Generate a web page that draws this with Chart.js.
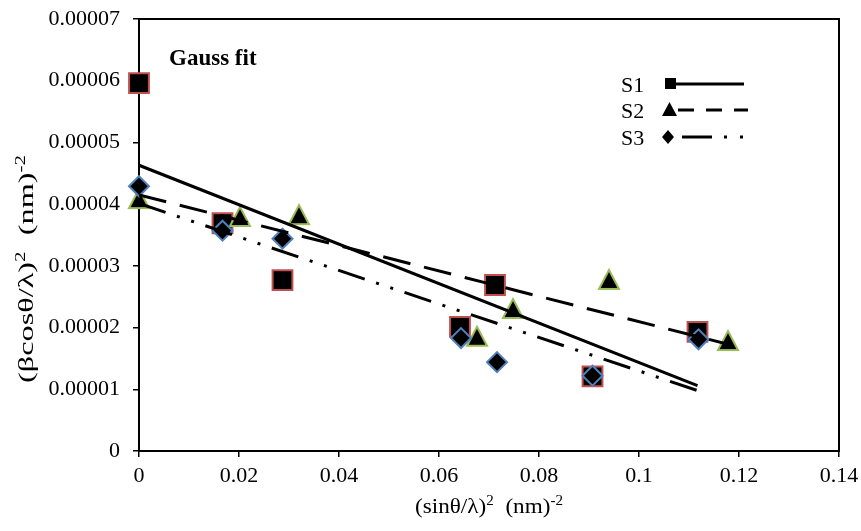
<!DOCTYPE html>
<html>
<head>
<meta charset="utf-8">
<title>Gauss fit</title>
<script src="https://cdn.jsdelivr.net/npm/chart.js@4.4.1/dist/chart.umd.min.js"></script>
<style>
  body { margin: 0; background: #fff; }
  #wrap { width: 861px; height: 531px; position: relative; }
</style>
</head>
<body>
<div id="wrap"><canvas id="gaussChart"></canvas></div>
<script>
// measured points, x = (sinθ/λ)^2, y = (βcosθ/λ)^2
const s1X = [0, 0.0167, 0.0287, 0.0642, 0.0712, 0.0907, 0.1117];
const s1Y = [0.0000596, 0.0000369, 0.0000277, 0.0000201, 0.0000269, 0.0000121, 0.0000193];
const s2X = [0, 0.0202, 0.0320, 0.0676, 0.0748, 0.0940, 0.1178];
const s2Y = [0.0000409, 0.0000380, 0.0000383, 0.0000186, 0.0000231, 0.0000278, 0.0000179];
const s3X = [0, 0.0167, 0.0287, 0.0644, 0.0716, 0.0907, 0.1119];
const s3Y = [0.0000429, 0.0000357, 0.0000344, 0.0000183, 0.0000144, 0.0000122, 0.0000181];

// linear fits (end points)
const fit1X = [0, 0.1117];
const fit1Y = [0.0000463, 0.0000106];
const fit2X = [0, 0.1178];
const fit2Y = [0.0000415, 0.0000173];
const fit3X = [0, 0.1117];
const fit3Y = [0.0000401, 0.0000098];

const xTicks = [0, 0.02, 0.04, 0.06, 0.08, 0.1, 0.12, 0.14];
const xTickLabels = ['0', '0.02', '0.04', '0.06', '0.08', '0.1', '0.12', '0.14'];
const yTicks = [0, 0.00001, 0.00002, 0.00003, 0.00004, 0.00005, 0.00006, 0.00007];
const yTickLabels = ['0', '0.00001', '0.00002', '0.00003', '0.00004', '0.00005', '0.00006', '0.00007'];

const seriesNames = ['S1', 'S2', 'S3'];

const SERIF = "'Liberation Serif', 'Times New Roman', serif";

function pts(xs, ys) {
    return xs.map((x, i) => ({ x: x, y: ys[i] }));
}

// Excel-like triangle marker (centred on its box)
function triangleMarker(w, h, fill, stroke, lw) {
    const c = document.createElement('canvas');
    c.width = w + 4; c.height = h + 4;
    const g = c.getContext('2d');
    g.beginPath();
    g.moveTo(c.width / 2, 2);
    g.lineTo(c.width - 2, c.height - 2);
    g.lineTo(2, c.height - 2);
    g.closePath();
    g.fillStyle = fill;
    g.fill();
    if (lw) {
        g.lineWidth = lw;
        g.strokeStyle = stroke;
        g.lineJoin = 'miter';
        g.stroke();
    }
    return c;
}

const triMarker = triangleMarker(20, 19, '#000', '#9BBB59', 2);

// text with superscripts
function drawParts(ctx, parts, x, y, size) {
    parts.forEach(p => {
        const fs = p.sup ? size * 0.65 : size;
        ctx.font = fs + 'px ' + SERIF;
        ctx.fillText(p.t, x, p.sup ? y - size * 0.36 : y);
        x += ctx.measureText(p.t).width;
    });
}
function measureParts(ctx, parts, size) {
    let w = 0;
    parts.forEach(p => {
        ctx.font = (p.sup ? size * 0.65 : size) + 'px ' + SERIF;
        w += ctx.measureText(p.t).width;
    });
    return w;
}

const xTitle = [{ t: '(sinθ/λ)' }, { t: '2', sup: true }, { t: '  (nm)' }, { t: '-2', sup: true }];
const yTitle = [{ t: '(βcosθ/λ)' }, { t: '2', sup: true }, { t: '  (nm)' }, { t: '-2', sup: true }];

const decorations = {
    id: 'decorations',
    beforeDatasetsDraw(chart) {
        // plot frame, under the markers
        const ctx = chart.ctx;
        const a = chart.chartArea;
        ctx.save();
        ctx.strokeStyle = '#000';
        ctx.lineWidth = 2;
        ctx.strokeRect(a.left, a.top, a.right - a.left, a.bottom - a.top);
        ctx.restore();
    },
    afterDraw(chart) {
        const ctx = chart.ctx;
        ctx.save();
        ctx.fillStyle = '#000';
        ctx.strokeStyle = '#000';
        ctx.textBaseline = 'alphabetic';
        ctx.textAlign = 'left';

        // x title
        let w = measureParts(ctx, xTitle, 22);
        ctx.save();
        ctx.translate(489, 513);
        ctx.scale(148 / w, 1);
        drawParts(ctx, xTitle, -w / 2, 0, 22);
        ctx.restore();

        // y title
        w = measureParts(ctx, yTitle, 21);
        ctx.save();
        ctx.translate(33, 269);
        ctx.rotate(-Math.PI / 2);
        ctx.scale(228 / w, 1);
        drawParts(ctx, yTitle, -w / 2, 0, 21);
        ctx.restore();

        // label in the plot
        ctx.font = 'bold 23px ' + SERIF;
        ctx.fillText('Gauss fit', 169, 65);

        // legend
        ctx.font = '22px ' + SERIF;
        const rows = [92, 118, 145];
        seriesNames.forEach((n, i) => ctx.fillText(n, 621, rows[i]));
        ctx.lineWidth = 3;
        // S1
        ctx.fillRect(665, 78, 11, 11);
        ctx.beginPath(); ctx.moveTo(676, 84); ctx.lineTo(744, 84); ctx.stroke();
        // S2
        ctx.drawImage(triangleMarker(15, 14, '#000', null, 0), 660, 100);
        ctx.setLineDash([16, 12]);
        ctx.beginPath(); ctx.moveTo(678, 110); ctx.lineTo(748, 110); ctx.stroke();
        // S3
        ctx.beginPath();
        ctx.moveTo(668, 130); ctx.lineTo(674, 137); ctx.lineTo(668, 144); ctx.lineTo(662, 137);
        ctx.closePath(); ctx.fill();
        ctx.setLineDash([30, 12, 3, 13, 3, 20]);
        ctx.beginPath(); ctx.moveTo(682, 137); ctx.lineTo(744, 137); ctx.stroke();
        ctx.restore();
    }
};

const tickFont = { family: SERIF, size: 22 };

new Chart(document.getElementById('gaussChart'), {
    type: 'scatter',
    data: {
        datasets: [
            {
                label: 'S1', data: pts(s1X, s1Y), order: 6, clip: false,
                pointStyle: 'rect', pointRadius: 14,
                backgroundColor: '#000', borderColor: '#C0504D', borderWidth: 2
            },
            {
                label: 'S2', data: pts(s2X, s2Y), order: 5, clip: false,
                pointStyle: triMarker,
                backgroundColor: '#000', borderColor: '#9BBB59', borderWidth: 0
            },
            {
                label: 'S3', data: pts(s3X, s3Y), order: 4, clip: false,
                pointStyle: 'rectRot', pointRadius: 10,
                backgroundColor: '#000', borderColor: '#4F81BD', borderWidth: 2
            },
            {
                label: 'S1 fit', data: pts(fit1X, fit1Y), order: 3,
                showLine: true, pointRadius: 0, borderColor: '#000', borderWidth: 3
            },
            {
                label: 'S2 fit', data: pts(fit2X, fit2Y), order: 2,
                showLine: true, pointRadius: 0, borderColor: '#000', borderWidth: 3,
                borderDash: [28, 14]
            },
            {
                label: 'S3 fit', data: pts(fit3X, fit3Y), order: 1,
                showLine: true, pointRadius: 0, borderColor: '#000', borderWidth: 3,
                borderDash: [28, 12, 3, 12, 3, 12]
            }
        ]
    },
    options: {
        responsive: true,
        maintainAspectRatio: false,
        animation: false,
        events: [],
        layout: { padding: { top: 19, right: 22, left: 0, bottom: 0 } },
        plugins: {
            legend: { display: false },
            tooltip: { enabled: false }
        },
        scales: {
            x: {
                type: 'linear', min: 0, max: 0.14,
                afterBuildTicks: s => { s.ticks = xTicks.map(v => ({ value: v })); },
                afterFit: s => { s.height = 80; s.paddingLeft = 0; s.paddingRight = 0; },
                ticks: {
                    callback: (v, i) => xTickLabels[i],
                    font: tickFont, color: '#000', padding: 6,
                    maxRotation: 0, autoSkip: false
                },
                grid: { drawOnChartArea: false, drawTicks: true, tickLength: 6, color: '#000', lineWidth: 1.5 },
                border: { color: '#000', width: 2 }
            },
            y: {
                type: 'linear', min: 0, max: 0.00007,
                afterBuildTicks: s => { s.ticks = yTicks.map(v => ({ value: v })); },
                afterFit: s => { s.width = 139; s.paddingTop = 0; s.paddingBottom = 0; },
                ticks: {
                    callback: (v, i) => yTickLabels[i],
                    font: tickFont, color: '#000', padding: 13, autoSkip: false
                },
                grid: { drawOnChartArea: false, drawTicks: true, tickLength: 6, color: '#000', lineWidth: 1.5 },
                border: { color: '#000', width: 2 }
            }
        }
    },
    plugins: [decorations]
});
</script>
</body>
</html>
